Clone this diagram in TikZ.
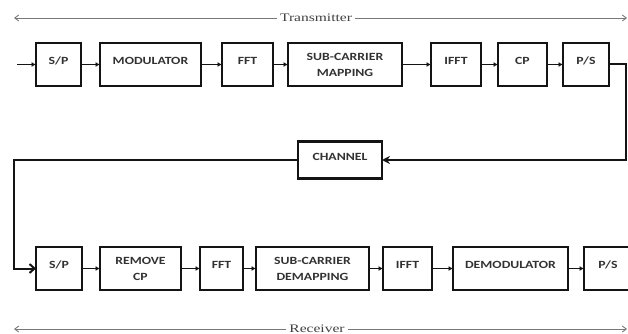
\documentclass[tikz,border=0pt]{standalone}
\usepackage{fontspec}
\usepackage{xcolor}
\usepackage{tikz}
\usetikzlibrary{arrows.meta,positioning}
\newfontfamily\boxfont[FakeStretch=1.25]{Carlito}
\newfontfamily\capfont[FakeStretch=1.35]{Liberation Serif}
\definecolor{ofedge}{RGB}{20,20,20}
\definecolor{oftext}{RGB}{50,50,50}
\definecolor{ofspan}{RGB}{120,120,120}
\tikzset{
  blk/.style={
    draw=ofedge, line width=2.2pt, align=center, inner sep=2pt,
    outer sep=0pt, minimum height=43pt, text=oftext,
    font=\boxfont\bfseries\fontsize{11}{16}\selectfont
  },
  one/.style={blk, text height=7pt, text depth=7pt},
  two/.style={blk},
  arr/.style={-{Latex[length=4.5pt,width=5pt]}, draw=ofedge, line width=1.6pt},
  loop/.style={draw=ofedge, line width=2pt},
  inarr/.style={loop, -{Stealth[length=8pt,width=8pt]}},
  barb/.style={loop, -{Straight Barb[length=5pt,width=9pt]}},
  span/.style={draw=ofspan, line width=0.9pt, -{Straight Barb[length=4pt,width=6pt]}},
  spanlab/.style={fill=white, inner sep=3pt, text=black!75,
    font=\capfont\fontsize{11.5}{13}\selectfont}
}
\begin{document}
\begin{tikzpicture}[x=1pt, y=-1pt]
  \useasboundingbox (0,0) rectangle (628,334);

  % transmitter row
  \node[one, minimum width=45pt] (tsp) at (58.5,64.5) {S/P};
  \node[one, minimum width=101pt, right=19pt of tsp] (tmod) {MODULATOR};
  \node[one, minimum width=51pt, right=21pt of tmod] (tfft) {FFT};
  \node[two, minimum width=114pt, right=15pt of tfft] (tmap) {SUB-CARRIER\\MAPPING};
  \node[one, minimum width=50pt, right=29pt of tmap] (tifft) {IFFT};
  \node[one, minimum width=49pt, right=17pt of tifft] (tcp) {CP};
  \node[one, minimum width=46pt, right=16pt of tcp] (tps) {P/S};
  \coordinate (tin) at (17,64.5);

  % channel
  \node[one, minimum width=84pt, minimum height=37pt] (chn) at (340,160) {CHANNEL};
  \coordinate (rcor) at (626,160);
  \coordinate (lcor) at (14,160);

  % receiver row
  \node[one, minimum width=46pt] (rsp) at (59,268.5) {S/P};
  \node[two, minimum width=81pt, right=18pt of rsp] (rrem) {REMOVE\\CP};
  \node[one, minimum width=43pt, right=19pt of rrem] (rfft) {FFT};
  \node[two, minimum width=113pt, right=13pt of rfft] (rdemap) {SUB-CARRIER\\DEMAPPING};
  \node[one, minimum width=49pt, right=14pt of rdemap] (rifft) {IFFT};
  \node[one, minimum width=115pt, right=21pt of rifft] (rdemod) {DEMODULATOR};
  \node[one, minimum width=48pt, right=16pt of rdemod] (rps) {P/S};

  % spans
  \coordinate (tl) at (14,18);
  \coordinate (tr) at (627,18);
  \node[spanlab] (tlab) at (316,18) {Transmitter};
  \coordinate (rl) at (14,329);
  \coordinate (rr) at (627,329);
  \node[spanlab] (rlab) at (317,329) {Receiver};

  \draw[arr] (tin) -- (tsp);
  \draw[arr] (tsp) -- (tmod);
  \draw[arr] (tmod) -- (tfft);
  \draw[arr] (tfft) -- (tmap);
  \draw[arr] (tmap) -- (tifft);
  \draw[arr] (tifft) -- (tcp);
  \draw[arr] (tcp) -- (tps);

  \draw[inarr] (tps.east) -| (rcor) -- (chn.east);
  \draw[barb] (chn.west) -- (lcor) |- (rsp.west);

  \draw[arr] (rsp) -- (rrem);
  \draw[arr] (rrem) -- (rfft);
  \draw[arr] (rfft) -- (rdemap);
  \draw[arr] (rdemap) -- (rifft);
  \draw[arr] (rifft) -- (rdemod);
  \draw[arr] (rdemod) -- (rps);

  \draw[span] (tlab) -- (tl);
  \draw[span] (tlab) -- (tr);
  \draw[span] (rlab) -- (rl);
  \draw[span] (rlab) -- (rr);
\end{tikzpicture}
\end{document}
